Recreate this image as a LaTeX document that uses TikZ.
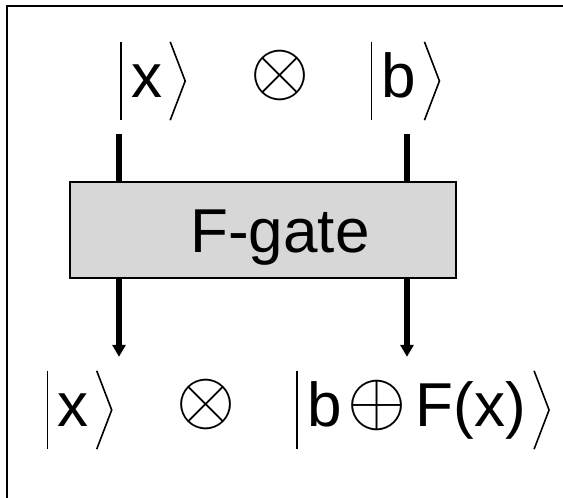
\documentclass[tikz,border=0pt]{standalone}
\usepackage{graphicx}
\usepackage{fontspec}
\setmainfont{Liberation Sans}
\definecolor{GateGray}{HTML}{D7D7D7}
\usetikzlibrary{arrows.meta,positioning,calc}
\newcommand{\bigop}[2]{\raisebox{#1}{\scalebox{7.6}{\normalsize$#2$}}}
\tikzset{
  ketnode/.style={inner xsep=8pt, inner ysep=0pt, text height=55pt, text depth=23pt, font=\fontsize{62}{70}\selectfont, anchor=base},
  opnode/.style={inner sep=0pt, font=\fontsize{62}{70}\selectfont, anchor=base},
  gatebox/.style={draw=black, line width=2pt, fill=GateGray, minimum width=386pt, minimum height=96pt, inner sep=0pt},
  gatelabel/.style={inner sep=0pt, font=\fontsize{62}{70}\selectfont, anchor=base},
  ketline/.style={line width=1.6pt, line join=miter},
  wire/.style={line width=6pt},
  arrow/.style={-{Triangle[length=12pt,width=13pt]}, line width=6pt},
  framebox/.style={draw=black, line width=2pt}
}

\begin{document}
\begin{tikzpicture}[x=1pt,y=-1pt]
\path[use as bounding box, clip] (0,0) rectangle (563,498);
\draw[framebox] (7,5.7) rectangle (600,540);

% input register
\node[ketnode] (inx) at (145.5,97) {\hspace{2pt}x};
\node[opnode] (intimes) at (280,97) {\bigop{2pt}{\otimes}};
\node[ketnode] (inb) at (398,97) {\hspace{2pt}b};

% the gate
\node[gatebox] (gate) at (263,230) {};
\node[gatelabel] (gatename) at (280,252) {F-gate};

% output register
\node[ketnode] (outx) at (72,426) {\hspace{2pt}x};
\node[opnode] (outtimes) at (206,426) {\bigop{3pt}{\otimes}};
\node[ketnode] (outbf) at (415.5,426) {\hspace{2pt}b\hspace{6pt}\bigop{2pt}{\oplus}\hspace{9pt}F(x)};

% ket brackets
\foreach \k in {inx,inb,outx,outbf} {
  \draw[ketline] (\k.north west) -- (\k.south west);
  \draw[ketline] (\k.north east) -- ([xshift=15pt]\k.east) -- (\k.south east);
}

% wires
\coordinate (leftwire) at (119,134);
\coordinate (rightwire) at (407,134);
\draw[wire] (leftwire) -- (leftwire |- gate.north);
\draw[wire] (rightwire) -- (rightwire |- gate.north);
\draw[arrow] (leftwire |- gate.south) -- ([yshift=14pt]leftwire |- outx.north);
\draw[arrow] (rightwire |- gate.south) -- ([yshift=14pt]rightwire |- outbf.north);
\end{tikzpicture}
\end{document}
